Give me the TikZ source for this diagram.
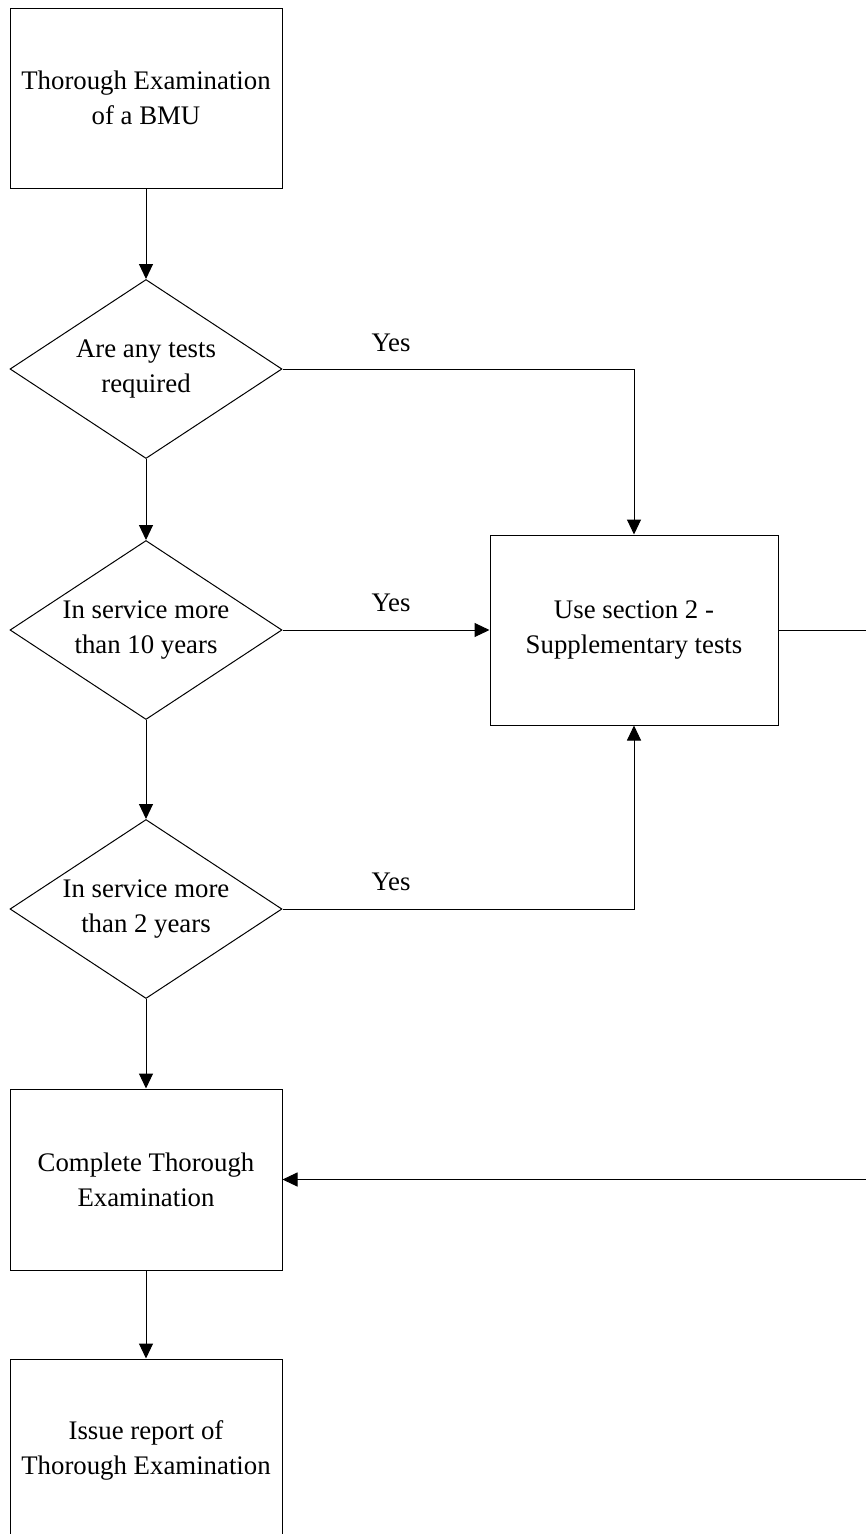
\documentclass[tikz,border=0pt]{standalone}
\usepackage{fontspec}
\setmainfont{Liberation Serif}
\usetikzlibrary{shapes.geometric,arrows.meta}
\begin{document}
\begin{tikzpicture}[x=1pt,y=-1pt,
  every node/.style={font=\fontsize{26.8}{35}\selectfont},
  procbox/.style={draw=black,line width=1pt,rectangle,align=center,inner sep=0pt},
  decision/.style={draw=black,line width=1pt,diamond,shape aspect=1.52,align=center,inner sep=0pt,minimum width=272pt,minimum height=179pt},
  lbl/.style={anchor=base,inner sep=0pt},
  conn/.style={draw=black,line width=1pt},
  arr/.style={conn,-{Triangle[length=15pt,width=14pt]}}]
\useasboundingbox (0,0) rectangle (865,1534);
\fill[white] (0,0) rectangle (865,1534);
\node[procbox,minimum width=272pt,minimum height=180pt] (start) at (146,98) {Thorough Examination\\of a BMU};
\node[decision] (d1) at (146,369) {Are any tests\\required};
\node[decision] (d2) at (146,630) {In service more\\than 10 years};
\node[decision] (d3) at (146,909) {In service more\\than 2 years};
\node[procbox,minimum width=288pt,minimum height=190pt] (supp) at (634,630) {Use section 2 -\\Supplementary tests};
\node[procbox,minimum width=272pt,minimum height=181pt] (complete) at (146,1179.5) {Complete Thorough\\Examination};
\node[procbox,minimum width=272pt,minimum height=182pt] (issue) at (146,1450) {Issue report of\\Thorough Examination};
\coordinate (c1) at (634,369);
\coordinate (c3) at (634,909);
\coordinate (r1) at (872,630);
\coordinate (r2) at (872,1179.5);
\node[lbl] (y1) at (391,351) {Yes};
\node[lbl] (y2) at (391,611) {Yes};
\node[lbl] (y3) at (391,890) {Yes};
\draw[arr] (start.south) -- (d1.north);
\draw[arr] (d1.south) -- (d2.north);
\draw[arr] (d1.east) -- (c1) -- (supp.north);
\draw[arr] (d2.east) -- (supp.west);
\draw[arr] (d2.south) -- (d3.north);
\draw[arr] (d3.east) -- (c3) -- (supp.south);
\draw[arr] (d3.south) -- (complete.north);
\draw[arr] (supp.east) -- (r1) -- (r2) -- (complete.east);
\draw[arr] (complete.south) -- (issue.north);
\end{tikzpicture}
\end{document}
